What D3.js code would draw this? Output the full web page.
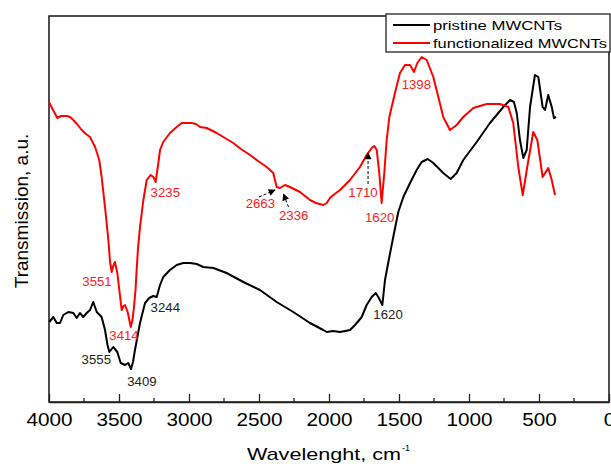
<!DOCTYPE html>
<meta charset="utf-8">
<html>
<head>
<script src="https://d3js.org/d3.v7.min.js"></script>
<style>
  body { margin: 0; background: white; }
  text { font-family: "Liberation Sans", Arial, sans-serif; }
</style>
</head>
<body>
<div id="chart"></div>
<script>
// FTIR spectra (wavenumber cm-1, transmission a.u.)
var pristineWave = [3998,3969,3945,3921,3898,3862,3826,3802,3779,3755,3731,3707,3684,3659,3624,3600,3582,3569,3541,3512,3488,3457,3434,3414,3400,3386,3350,3314,3284,3255,3231,3207,3184,3136,3088,3041,2993,2945,2898,2826,2731,2612,2493,2374,2255,2136,2041,2016,1971,1921,1850,1814,1766,1731,1695,1666,1648,1619,1600,1569,1541,1505,1469,1421,1374,1338,1295,1255,1184,1131,1088,1041,945,850,755,707,679,659,636,612,588,564,529,505,474,457,434,409,393,379];
var pristineT = [80,85,79,79,87,90,89,84,89,85,89,92,100,90,85,72,57,50,55,50,39,37,39,33,40,52,79,99,104,106,105,117,125,132,137,139,139,138,135,134,129,120,112,100,90,79,72,70,71,70,72,77,85,97,105,109,105,97,122,145,165,190,205,219,232,240,243,239,229,223,229,242,260,279,295,302,300,289,262,244,252,295,327,325,295,292,307,295,284,285];

var funcWave = [4000,3971,3941,3914,3874,3850,3826,3800,3766,3736,3707,3671,3641,3624,3600,3576,3564,3552,3541,3529,3512,3496,3481,3468,3457,3438,3416,3404,3393,3382,3374,3364,3350,3326,3302,3274,3255,3238,3219,3207,3184,3136,3088,3052,2981,2950,2921,2874,2802,2743,2684,2629,2564,2507,2445,2398,2374,2350,2314,2279,2207,2136,2093,2041,2016,1993,1969,1921,1850,1779,1731,1695,1676,1659,1641,1624,1605,1588,1569,1529,1493,1457,1421,1393,1369,1338,1302,1255,1219,1184,1136,1088,1041,969,874,779,719,684,648,616,584,541,512,474,434,409,386];
var funcT = [300,292,284,286,286,285,282,278,272,268,265,255,242,225,195,162,140,130,136,140,129,110,92,96,97,90,75,82,95,112,132,154,175,202,222,227,225,220,239,252,260,269,275,279,279,278,275,274,269,264,259,253,247,241,235,229,215,214,217,215,210,202,199,197,199,204,207,212,222,235,247,254,256,252,229,199,229,262,285,309,329,337,337,330,339,345,342,325,305,285,272,277,285,294,298,298,295,279,235,207,235,270,262,225,234,222,207];

var seriesNames = ["pristine MWCNTs", "functionalized MWCNTs"];
var seriesColors = ["#000000", "#ff0000"];

var xTicks = [4000, 3500, 3000, 2500, 2000, 1500, 1000, 500, 0];
var xMinorTicks = [3750, 3250, 2750, 2250, 1750, 1250, 750, 250];

// peak labels: text, wavenumber, transmission at text baseline, colour index
var peakLabels = [
  ["3551", 3762, 116, 1], ["3414", 3569, 62, 1], ["3235", 3274, 205, 1],
  ["2663", 2595, 194, 1], ["2336", 2357, 182, 1], ["1710", 1862, 205, 1],
  ["1620", 1743, 180, 1], ["1398", 1481, 313, 1],
  ["3555", 3767, 38, 0], ["3409", 3441, 16, 0], ["3244", 3274, 90, 0],
  ["1620", 1683, 83, 0]
];
// dashed arrows: from (wave, T) to (wave, T)
var arrows = [
  [2500, 205, 2386, 212],
  [2289, 195, 2325, 208],
  [1721, 218, 1721, 249]
];

var W = 611, H = 464;
var frame = {left: 49, right: 609, top: 16, bottom: 402};

var svg = d3.select("#chart").append("svg")
    .attr("width", W).attr("height", H);

var x = d3.scaleLinear().domain([4000, 0]).range([frame.left, frame.right]);
var y = d3.scaleLinear().domain([0, 386]).range([frame.bottom, frame.top]);

// stretch text a bit wider, the original figure is squeezed sideways
function stretch(sel, k) {
  sel.each(function() {
    var L = this.getComputedTextLength();
    d3.select(this).attr("textLength", L * k).attr("lengthAdjust", "spacingAndGlyphs");
  });
}

// defs for the arrow heads
svg.append("defs").append("marker")
    .attr("id", "head")
    .attr("viewBox", "0 0 10 10")
    .attr("refX", 9).attr("refY", 5)
    .attr("markerWidth", 9).attr("markerHeight", 7)
    .attr("markerUnits", "userSpaceOnUse")
    .attr("orient", "auto")
  .append("path")
    .attr("d", "M0,0 L10,5 L0,10 z")
    .attr("fill", "#000");

// frame
svg.append("rect")
    .attr("x", frame.left).attr("y", frame.top)
    .attr("width", frame.right - frame.left)
    .attr("height", frame.bottom - frame.top)
    .attr("fill", "none").attr("stroke", "#222").attr("stroke-width", 1.6);

// bottom axis, ticks pointing inward
var axis = svg.append("g")
    .attr("transform", "translate(0," + frame.bottom + ")")
    .call(d3.axisBottom(x).tickValues(xTicks).tickFormat(d3.format("d"))
        .tickSizeInner(-8).tickSizeOuter(0).tickPadding(11));
axis.select(".domain").attr("stroke", "#222").attr("stroke-width", 1.6);
axis.selectAll(".tick line").attr("stroke", "#222").attr("stroke-width", 1.3);
axis.selectAll(".tick text")
    .attr("fill", "#000")
    .style("font-size", "18.5px")
    .call(stretch, 1.12);

svg.append("g").selectAll("line")
    .data(xMinorTicks).enter()
    .append("line")
    .attr("x1", d => x(d)).attr("x2", d => x(d))
    .attr("y1", frame.bottom).attr("y2", frame.bottom - 4)
    .attr("stroke", "#222").attr("stroke-width", 1.3);

// axis titles
svg.append("text")
    .attr("x", 247).attr("y", 460)
    .style("font-size", "17px")
    .attr("textLength", 154)
    .attr("lengthAdjust", "spacingAndGlyphs")
    .text("Wavelenght, cm");
svg.append("text")
    .attr("x", 402).attr("y", 451)
    .style("font-size", "9px")
    .text("-1");

svg.append("text")
    .attr("transform", "translate(28,211) rotate(-90)")
    .attr("text-anchor", "middle")
    .style("font-size", "19px")
    .text("Transmission, a.u.");

// spectra
var line = d3.line()
    .x(d => x(d[0]))
    .y(d => y(d[1]));

var spectra = [d3.zip(pristineWave, pristineT), d3.zip(funcWave, funcT)];

svg.append("g").selectAll("path")
    .data(spectra).enter()
    .append("path")
    .attr("d", line)
    .attr("fill", "none")
    .attr("stroke", (d, i) => seriesColors[i])
    .attr("stroke-width", 2)
    .attr("stroke-linejoin", "round");

// arrows
svg.append("g").selectAll("line")
    .data(arrows).enter()
    .append("line")
    .attr("x1", d => x(d[0])).attr("y1", d => y(d[1]))
    .attr("x2", d => x(d[2])).attr("y2", d => y(d[3]))
    .attr("stroke", "#000").attr("stroke-width", 1)
    .attr("stroke-dasharray", "3,2")
    .attr("marker-end", "url(#head)");

// peak labels
svg.append("g").selectAll("text")
    .data(peakLabels).enter()
    .append("text")
    .attr("x", d => x(d[1]))
    .attr("y", d => y(d[2]))
    .attr("fill", d => d[3] ? "#ff2020" : "#222")
    .style("font-size", "12px")
    .text(d => d[0])
    .call(stretch, 1.1);

// legend
var legend = svg.append("g");
legend.append("rect")
    .attr("x", 386).attr("y", 14)
    .attr("width", 224).attr("height", 38)
    .attr("fill", "white").attr("stroke", "#222").attr("stroke-width", 1.3);

var legendWidths = [129, 174];
seriesNames.forEach(function(name, i) {
  var ly = 25 + i * 18;
  legend.append("line")
      .attr("x1", 393).attr("x2", 430)
      .attr("y1", ly).attr("y2", ly)
      .attr("stroke", seriesColors[i]).attr("stroke-width", 2);
  legend.append("text")
      .attr("x", 433).attr("y", ly + 4.5)
      .style("font-size", "13px")
      .attr("textLength", legendWidths[i])
      .attr("lengthAdjust", "spacingAndGlyphs")
      .text(name);
});
</script>
</body>
</html>
